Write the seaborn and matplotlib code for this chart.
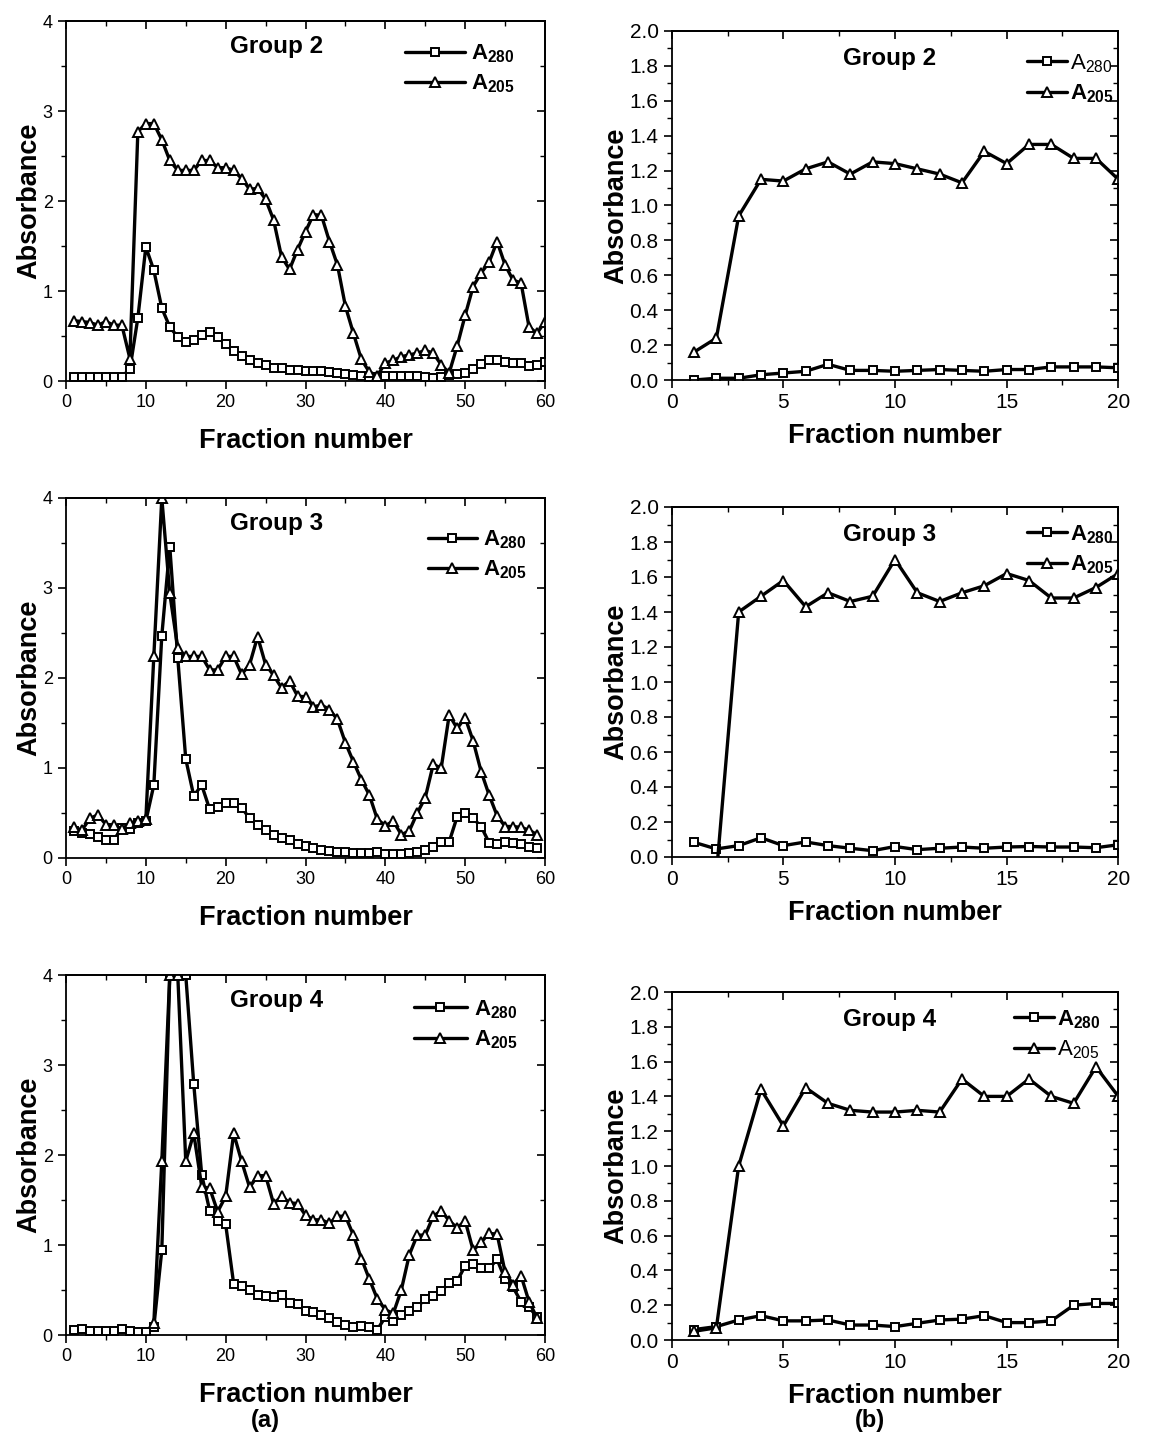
import numpy as np
import pandas as pd
import matplotlib
matplotlib.use('Agg')
import matplotlib.pyplot as plt
import seaborn as sns
from matplotlib.ticker import MultipleLocator

sns.set_theme(style='ticks')
plt.rcParams['font.family'] = ['Liberation Sans', 'DejaVu Sans']
plt.rcParams['mathtext.fontset'] = 'custom'
plt.rcParams['mathtext.rm'] = 'Liberation Sans'
plt.rcParams['mathtext.bf'] = 'Liberation Sans:bold'
plt.rcParams['mathtext.it'] = 'Liberation Sans:italic'
for k in ['text.color', 'axes.labelcolor', 'xtick.color', 'ytick.color', 'axes.edgecolor']:
    plt.rcParams[k] = 'black'

# ---------------- data: column (a), fractions 1..60 ----------------
g2_a280 = [0.05, 0.05, 0.05, 0.05, 0.05, 0.05, 0.05, 0.13, 0.70, 1.49,
           1.23, 0.81, 0.60, 0.49, 0.43, 0.46, 0.51, 0.54, 0.49, 0.41,
           0.33, 0.28, 0.23, 0.20, 0.18, 0.15, 0.14, 0.12, 0.12, 0.11,
           0.11, 0.11, 0.10, 0.09, 0.08, 0.07, 0.06, 0.05, 0.05, 0.06,
           0.06, 0.06, 0.06, 0.06, 0.05, 0.03, 0.04, 0.07, 0.08, 0.09,
           0.13, 0.19, 0.23, 0.23, 0.21, 0.20, 0.20, 0.17, 0.18, 0.21]
g2_a205 = [0.67, 0.66, 0.65, 0.62, 0.66, 0.62, 0.62, 0.25, 2.77, 2.86,
           2.86, 2.68, 2.45, 2.34, 2.34, 2.34, 2.45, 2.45, 2.37, 2.37,
           2.34, 2.25, 2.13, 2.14, 2.02, 1.79, 1.38, 1.24, 1.46, 1.66,
           1.85, 1.84, 1.55, 1.29, 0.83, 0.53, 0.24, 0.10, 0.06, 0.20,
           0.23, 0.27, 0.29, 0.31, 0.34, 0.31, 0.18, 0.09, 0.39, 0.73,
           1.05, 1.20, 1.32, 1.55, 1.29, 1.12, 1.09, 0.60, 0.53, 0.66]

g3_a280 = [0.30, 0.28, 0.27, 0.23, 0.20, 0.20, 0.33, 0.32, 0.39, 0.41,
           0.81, 2.47, 3.46, 2.22, 1.10, 0.69, 0.81, 0.54, 0.57, 0.61,
           0.61, 0.56, 0.44, 0.37, 0.31, 0.26, 0.22, 0.20, 0.16, 0.13,
           0.11, 0.09, 0.08, 0.07, 0.07, 0.06, 0.06, 0.06, 0.07, 0.05,
           0.05, 0.05, 0.06, 0.07, 0.09, 0.12, 0.18, 0.18, 0.46, 0.50,
           0.44, 0.35, 0.17, 0.16, 0.18, 0.17, 0.16, 0.12, 0.11]
g3_a205 = [0.34, 0.31, 0.44, 0.48, 0.37, 0.37, 0.32, 0.39, 0.41, 0.43,
           2.24, 4.00, 2.94, 2.33, 2.24, 2.24, 2.24, 2.09, 2.09, 2.24,
           2.24, 2.04, 2.15, 2.46, 2.15, 2.03, 1.89, 1.97, 1.80, 1.79,
           1.68, 1.70, 1.65, 1.54, 1.28, 1.07, 0.87, 0.70, 0.43, 0.36,
           0.41, 0.26, 0.30, 0.50, 0.67, 1.04, 1.00, 1.59, 1.44, 1.56,
           1.30, 0.96, 0.70, 0.47, 0.35, 0.35, 0.34, 0.31, 0.26]

g4_a280 = [0.06, 0.07, 0.05, 0.05, 0.05, 0.05, 0.07, 0.05, 0.03, 0.03,
           0.09, 0.94, 4.00, 4.00, 4.00, 2.79, 1.78, 1.38, 1.27, 1.23,
           0.57, 0.54, 0.50, 0.44, 0.43, 0.42, 0.45, 0.36, 0.34, 0.27,
           0.26, 0.22, 0.19, 0.15, 0.11, 0.09, 0.10, 0.09, 0.06, 0.20,
           0.16, 0.22, 0.27, 0.31, 0.40, 0.43, 0.49, 0.58, 0.60, 0.77,
           0.79, 0.74, 0.74, 0.84, 0.62, 0.53, 0.37, 0.31, 0.20]
g4_a205_start = 11
g4_a205 = [0.13, 1.93, 4.00, 4.00, 1.93, 2.24, 1.65, 1.63, 1.37, 1.54,
           2.24, 1.93, 1.64, 1.77, 1.77, 1.46, 1.54, 1.47, 1.46, 1.33,
           1.28, 1.28, 1.24, 1.32, 1.32, 1.11, 0.85, 0.62, 0.40, 0.28,
           0.24, 0.50, 0.89, 1.11, 1.11, 1.32, 1.38, 1.27, 1.19, 1.27,
           0.94, 1.03, 1.13, 1.12, 0.70, 0.56, 0.66, 0.37, 0.19]

# ---------------- data: column (b), fractions 1..20 ----------------
g2b_a280 = [0.00, 0.01, 0.01, 0.03, 0.04, 0.05, 0.09, 0.055, 0.055, 0.05,
            0.055, 0.06, 0.055, 0.05, 0.06, 0.06, 0.075, 0.075, 0.075, 0.07]
g2b_a205 = [0.16, 0.24, 0.94, 1.15, 1.14, 1.21, 1.25, 1.18, 1.25, 1.24,
            1.21, 1.18, 1.13, 1.31, 1.24, 1.35, 1.35, 1.27, 1.27, 1.15]

g3b_a280 = [0.084, 0.046, 0.065, 0.11, 0.065, 0.086, 0.065, 0.05, 0.036, 0.06,
            0.042, 0.05, 0.057, 0.05, 0.057, 0.06, 0.057, 0.057, 0.053, 0.07]
g3b_a205_start = 2
g3b_a205 = [-0.10, 1.40, 1.49, 1.58, 1.43, 1.51, 1.46, 1.49, 1.70, 1.51,
            1.46, 1.51, 1.55, 1.62, 1.58, 1.48, 1.48, 1.54, 1.62]

g4b_a280 = [0.06, 0.077, 0.115, 0.14, 0.11, 0.11, 0.115, 0.086, 0.086, 0.077,
            0.096, 0.115, 0.12, 0.14, 0.10, 0.10, 0.11, 0.20, 0.21, 0.21]
g4b_a205 = [0.05, 0.07, 1.00, 1.44, 1.23, 1.45, 1.36, 1.32, 1.31, 1.31,
            1.32, 1.31, 1.50, 1.40, 1.40, 1.50, 1.40, 1.36, 1.57, 1.40]

group_titles = ['Group 2', 'Group 3', 'Group 4']
xlabel_text = 'Fraction number'
ylabel_text = 'Absorbance'

A280_B = r'$\mathbf{A_{280}}$'
A205_B = r'$\mathbf{A_{205}}$'
A280_R = r'$\mathregular{A_{280}}$'
A205_R = r'$\mathregular{A_{205}}$'

# ---------------- figure ----------------
W, H = 1149, 1448
fig = plt.figure(figsize=(W / 100, H / 100), dpi=100)
fig.patch.set_facecolor('white')


def px_axes(x0, x1, ytop, ybot):
    return fig.add_axes([x0 / W, 1 - ybot / H, (x1 - x0) / W, (ybot - ytop) / H])


def series(ax, xs, ys, marker, label, ms):
    df = pd.DataFrame({'fraction': xs, 'abs': ys})
    sns.lineplot(data=df, x='fraction', y='abs', ax=ax, color='black', lw=2.4,
                 marker=marker, markersize=ms, markerfacecolor='white',
                 markeredgecolor='black', markeredgewidth=1.4,
                 estimator=None, sort=False, label=label, legend=False)


def style_axes(ax, xmax, xmaj, xmin, ymax, ymaj, ymin, tick_fs, yfmt, ylpad, xlpad):
    ax.set_xlim(0, xmax)
    ax.set_ylim(0, ymax)
    ax.xaxis.set_major_locator(MultipleLocator(xmaj))
    ax.xaxis.set_minor_locator(MultipleLocator(xmin))
    ax.yaxis.set_major_locator(MultipleLocator(ymaj))
    ax.yaxis.set_minor_locator(MultipleLocator(ymin))
    ax.yaxis.set_major_formatter(yfmt)
    for s in ax.spines.values():
        s.set_visible(True)
        s.set_linewidth(1.3)
        s.set_color('black')
    ax.tick_params(which='major', direction='out', length=6, width=1.2,
                   labelsize=tick_fs, colors='black', top=False, right=False)
    ax.tick_params(which='minor', direction='out', length=3.5, width=1.0,
                   top=False, right=False)
    sx = ax.secondary_xaxis('top')
    sx.xaxis.set_major_locator(MultipleLocator(xmaj))
    sx.xaxis.set_minor_locator(MultipleLocator(xmin))
    sx.tick_params(which='major', direction='in', length=6, width=1.2, labeltop=False)
    sx.tick_params(which='minor', direction='in', length=3.5, width=1.0)
    sy = ax.secondary_yaxis('right')
    sy.yaxis.set_major_locator(MultipleLocator(ymaj))
    sy.yaxis.set_minor_locator(MultipleLocator(ymin))
    sy.tick_params(which='major', direction='in', length=6, width=1.2, labelright=False)
    sy.tick_params(which='minor', direction='in', length=3.5, width=1.0)
    for s in list(sx.spines.values()) + list(sy.spines.values()):
        s.set_linewidth(1.3)
    ax.set_xlabel(xlabel_text, fontsize=19.5, fontweight='bold', labelpad=xlpad)
    ax.set_ylabel(ylabel_text, fontsize=19.5, fontweight='bold', labelpad=ylpad)


left_rows = [(21, 381), (498, 858), (975, 1335)]
right_rows = [(31, 380), (507, 857), (992, 1340)]

left_data = [
    (list(range(1, 61)), g2_a280, list(range(1, 61)), g2_a205),
    (list(range(1, 60)), g3_a280, list(range(1, 60)), g3_a205),
    (list(range(1, 60)), g4_a280,
     list(range(g4_a205_start, g4_a205_start + len(g4_a205))), g4_a205),
]
right_data = [
    (list(range(1, 21)), g2b_a280, list(range(1, 21)), g2b_a205),
    (list(range(1, 21)), g3b_a280,
     list(range(g3b_a205_start, g3b_a205_start + len(g3b_a205))), g3b_a205),
    (list(range(1, 21)), g4b_a280, list(range(1, 21)), g4b_a205),
]
left_labels = [(A280_B, A205_B)] * 3
right_labels = [(A280_R, A205_B), (A280_B, A205_B), (A280_B, A205_R)]
left_leg = [(0.975, 0.99, 2.7), (1.0, 0.965, 2.2), (0.98, 0.985, 2.4)]
right_leg = [(1.03, 0.99, 1.8), (1.03, 1.005, 1.8), (1.0, 1.005, 1.8)]

ifmt = matplotlib.ticker.FormatStrFormatter('%d')
ffmt = matplotlib.ticker.FormatStrFormatter('%.1f')

for i in range(3):
    # left column
    ax = px_axes(66, 545, *left_rows[i])
    xs1, ys1, xs2, ys2 = left_data[i]
    series(ax, xs1, ys1, 's', left_labels[i][0], 6.3)
    series(ax, xs2, ys2, '^', left_labels[i][1], 7.3)
    style_axes(ax, 60, 10, 5, 4, 1, 0.5, 13, ifmt, ylpad=0, xlpad=12)
    ax.text(0.44, 0.93, group_titles[i], transform=ax.transAxes, ha='center',
            va='center', fontsize=17.5, fontweight='bold')
    bx, by, hl = left_leg[i]
    ax.legend(loc='upper right', bbox_to_anchor=(bx, by), frameon=False,
              fontsize=16, handlelength=hl, handletextpad=0.3, labelspacing=0.35,
              borderpad=0.3)

    # right column
    ax = px_axes(671.7, 1118.3, *right_rows[i])
    xs1, ys1, xs2, ys2 = right_data[i]
    series(ax, xs1, ys1, 's', right_labels[i][0], 6.3)
    series(ax, xs2, ys2, '^', right_labels[i][1], 7.3)
    style_axes(ax, 20, 5, 2.5, 2.0, 0.2, 0.1, 15, ffmt, ylpad=0, xlpad=8)
    ax.text(0.487, 0.92, group_titles[i], transform=ax.transAxes, ha='center',
            va='center', fontsize=17.5, fontweight='bold')
    bx, by, hl = right_leg[i]
    ax.legend(loc='upper right', bbox_to_anchor=(bx, by), frameon=False,
              fontsize=16, handlelength=hl, handletextpad=0.15, labelspacing=0.35,
              borderpad=0.3)

fig.text(265 / W, 1 - 1421 / H, '(a)', ha='center', va='center', fontsize=17,
         fontweight='bold')
fig.text(870 / W, 1 - 1421 / H, '(b)', ha='center', va='center', fontsize=17,
         fontweight='bold')

fig.savefig('out.png', dpi=100, facecolor='white')
